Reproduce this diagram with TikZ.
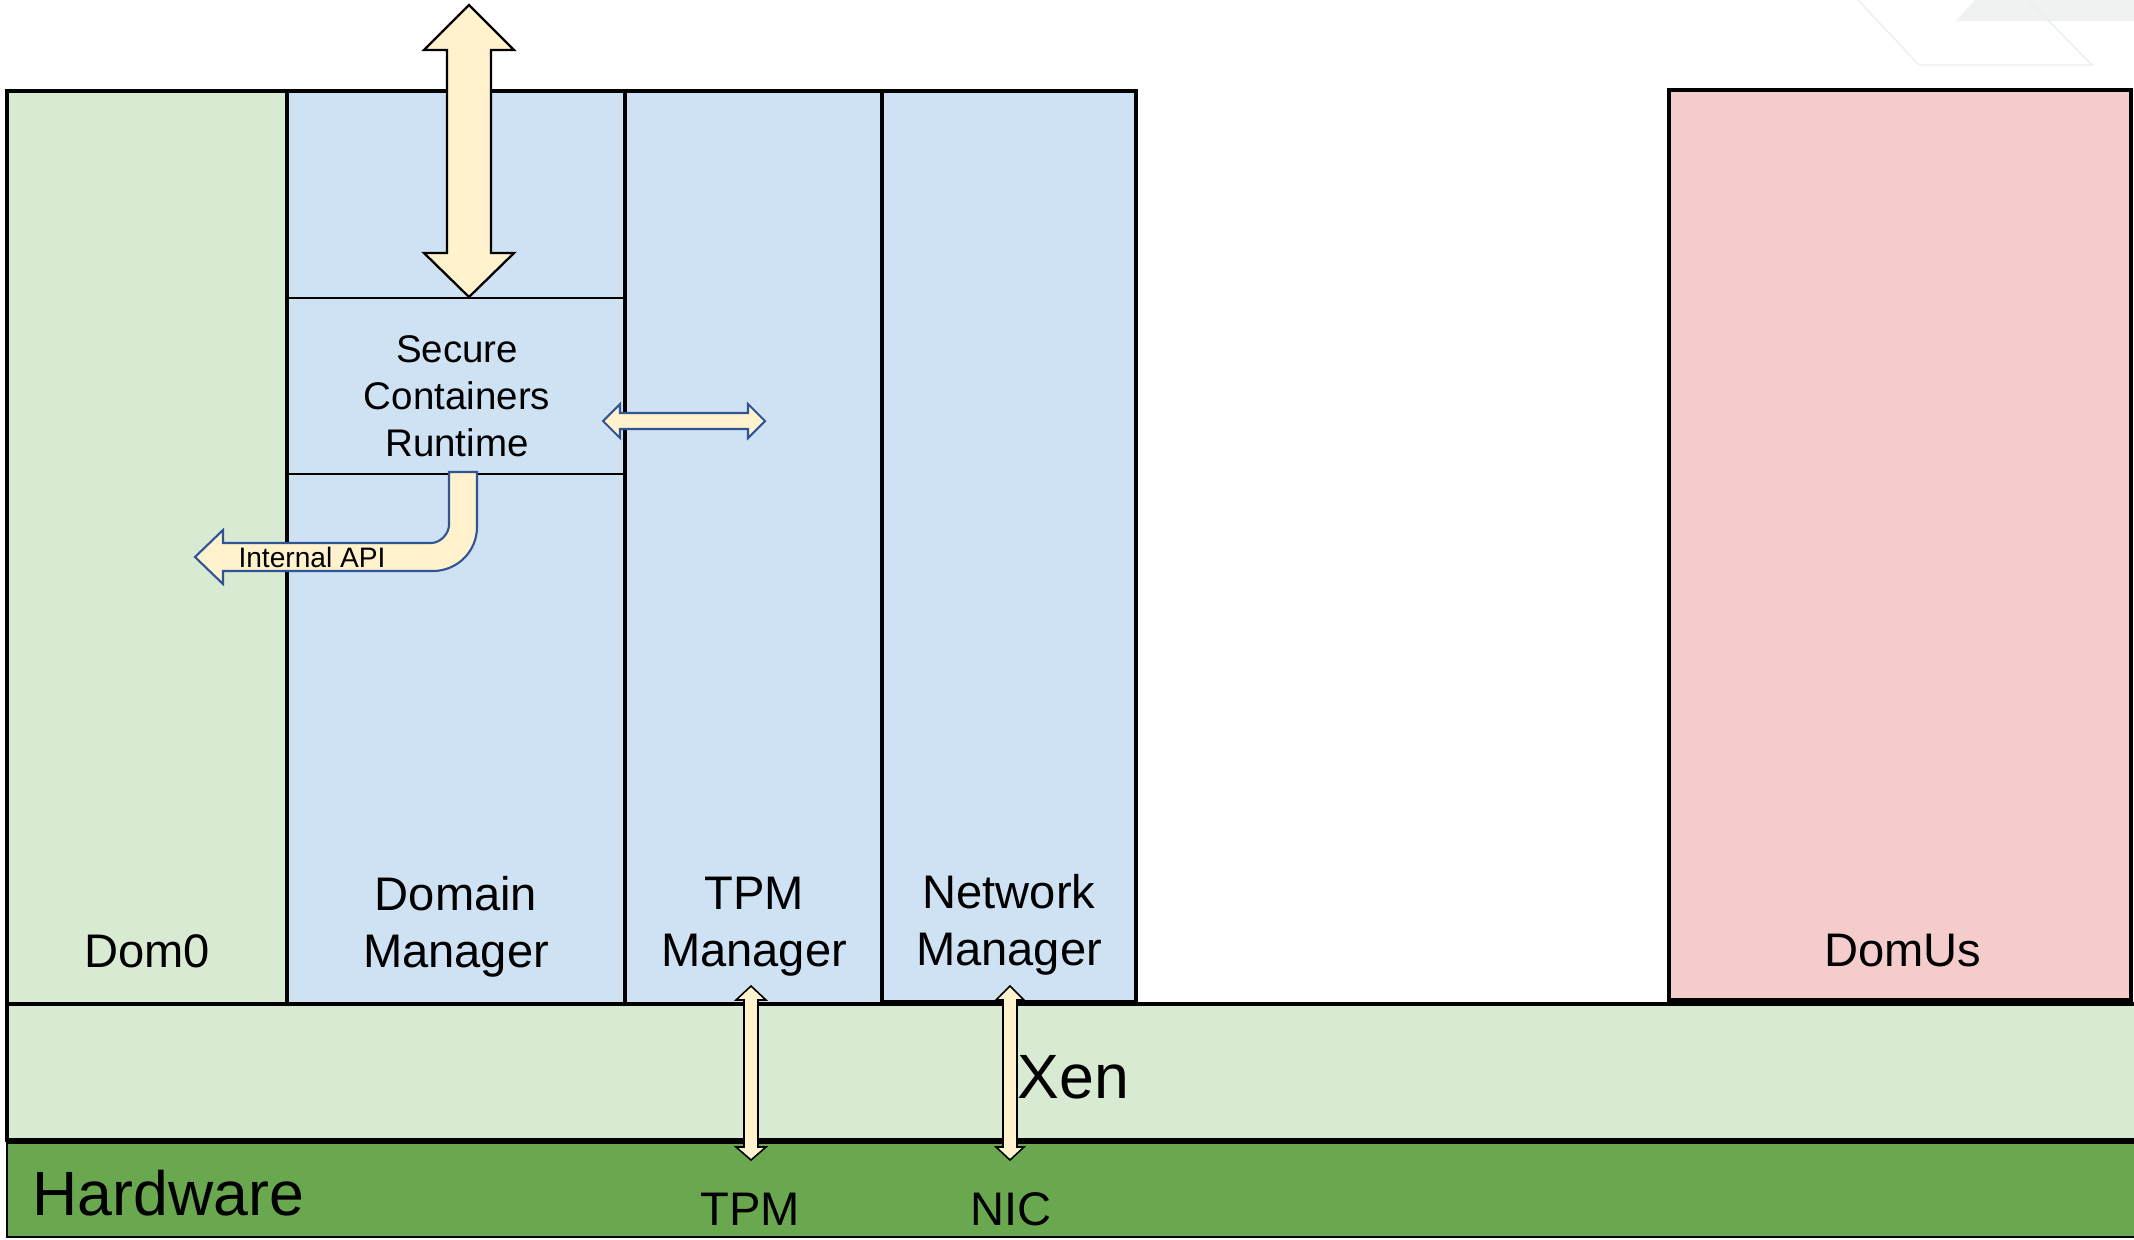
\documentclass[tikz,border=0pt]{standalone}
\usepackage{fontspec}
\setmainfont{Liberation Sans}
\usetikzlibrary{fit}
\definecolor{lgreen}{HTML}{D9EAD3}
\definecolor{lblue}{HTML}{CFE2F3}
\definecolor{lpink}{HTML}{F4CCCC}
\definecolor{hwgreen}{HTML}{6AA84F}
\definecolor{cream}{HTML}{FFF2CC}
\definecolor{arrowblue}{HTML}{2F5597}
\definecolor{wmline}{HTML}{ECEEED}
\definecolor{wmfill}{HTML}{F0F2F1}
\begin{document}
\begin{tikzpicture}[x=0.01cm,y=-0.01cm,
  layer/.style={draw=black, line width=1.2pt, inner sep=0pt, outer sep=0pt},
  thinbox/.style={draw=black, line width=0.6pt, inner sep=0pt, outer sep=0pt},
  biglabel/.style={font=\fontsize{13.4}{16.2}\selectfont, align=center, inner sep=0pt},
  hugelabel/.style={font=\fontsize{17.8}{21}\selectfont, inner sep=0pt},
  scrlabel/.style={font=\fontsize{10.95}{13.4}\selectfont, align=center, inner sep=0pt},
  apilabel/.style={font=\fontsize{8}{9.6}\selectfont, inner sep=0pt},
  fatarrow/.style={draw=black, fill=cream, line width=0.6pt, line join=miter},
  bluearrow/.style={draw=arrowblue, fill=cream, line width=0.6pt, line join=miter},
  thinarrow/.style={draw=black, fill=cream, line width=0.45pt, line join=miter}]
\useasboundingbox (0,0) rectangle (2134,1239);

% faint watermark at top right
\fill[wmfill] (1956,21) -- (1975,0) -- (2134,0) -- (2134,21) -- cycle;
\draw[wmline, line width=0.4pt] (1858,0) -- (1919,65) -- (2092,65) -- (2028,0);

% hardware and hypervisor layers
\node[thinbox, fill=hwgreen, fit={(7,1143) (2150,1237)}] (hw) {};
\node[layer, fill=lgreen, fit={(7,1004) (2150,1140)}] (xen) {};

% domains
\node[layer, fill=lgreen, fit={(7,91) (287,1004)}] (dom0) {};
\node[layer, fill=lblue, fit={(287,91) (625,1004)}] (dm) {};
\node[layer, fill=lblue, fit={(625,91) (882,1004)}] (tpmm) {};
\node[layer, fill=lblue, fit={(882,91) (1136,1002)}] (nm) {};
\node[layer, fill=lpink, fit={(1669,90) (2131,1000)}] (domus) {};
\node[thinbox, fill=lblue, fit={(287,298) (625,474)}] (scr) {};
\draw[layer] (dm.north west) -- (dm.south west) (dm.north east) -- (dm.south east);

% big vertical double arrow
\draw[fatarrow, line width=0.65pt] (469,5) -- (514,50) -- (491,50) -- (491,253) -- (514,253) -- (469,297)
  -- (424,253) -- (447,253) -- (447,50) -- (424,50) -- cycle;

% horizontal double arrow
\draw[bluearrow] (603,421) -- (620,404) -- (620,413) -- (748,413) -- (748,404) -- (765,421)
  -- (748,438) -- (748,429) -- (620,429) -- (620,438) -- cycle;

% bent arrow: Internal API
\draw[bluearrow] (449,472) -- (477,472) -- (477,527)
  .. controls (477,551.3) and (457.3,571) .. (433,571)
  -- (223,571) -- (223,584) -- (195,557) -- (223,530) -- (223,543) -- (431,543)
  .. controls (440.9,543) and (449,533.1) .. (449,525) -- cycle;

% thin double arrows through Xen
\draw[thinarrow] (751,986) -- (766,1000) -- (758,1000) -- (758,1147) -- (766,1147) -- (751,1160)
  -- (736,1147) -- (744,1147) -- (744,1000) -- (736,1000) -- cycle;
\draw[thinarrow] (1010,986) -- (1024,1000) -- (1017,1000) -- (1017,1147) -- (1024,1147) -- (1010,1160)
  -- (996,1147) -- (1003,1147) -- (1003,1000) -- (996,1000) -- cycle;

% labels
\node[scrlabel] (scrt) at (457,396) {Secure\\Containers\\Runtime};
\node[apilabel, anchor=base] (api) at (312,567) {Internal API};
\node[biglabel, anchor=base] (dom0t) at (147,967) {Dom0};
\node[biglabel] (dmt) at (456,927) {Domain\\Manager};
\node[biglabel] (tpmmt) at (754,927) {TPM\\Manager};
\node[biglabel] (nmt) at (1009,925) {Network\\Manager};
\node[biglabel, anchor=base] (domust) at (1903,966) {DomUs};
\node[hugelabel, anchor=base west] (xent) at (1017,1098) {Xen};
\node[hugelabel, anchor=base west] (hwt) at (32,1215) {Hardware};
\node[biglabel, anchor=base] (tpmt) at (750,1225) {TPM};
\node[biglabel, anchor=base] (nict) at (1011,1225) {NIC};
\end{tikzpicture}
\end{document}
